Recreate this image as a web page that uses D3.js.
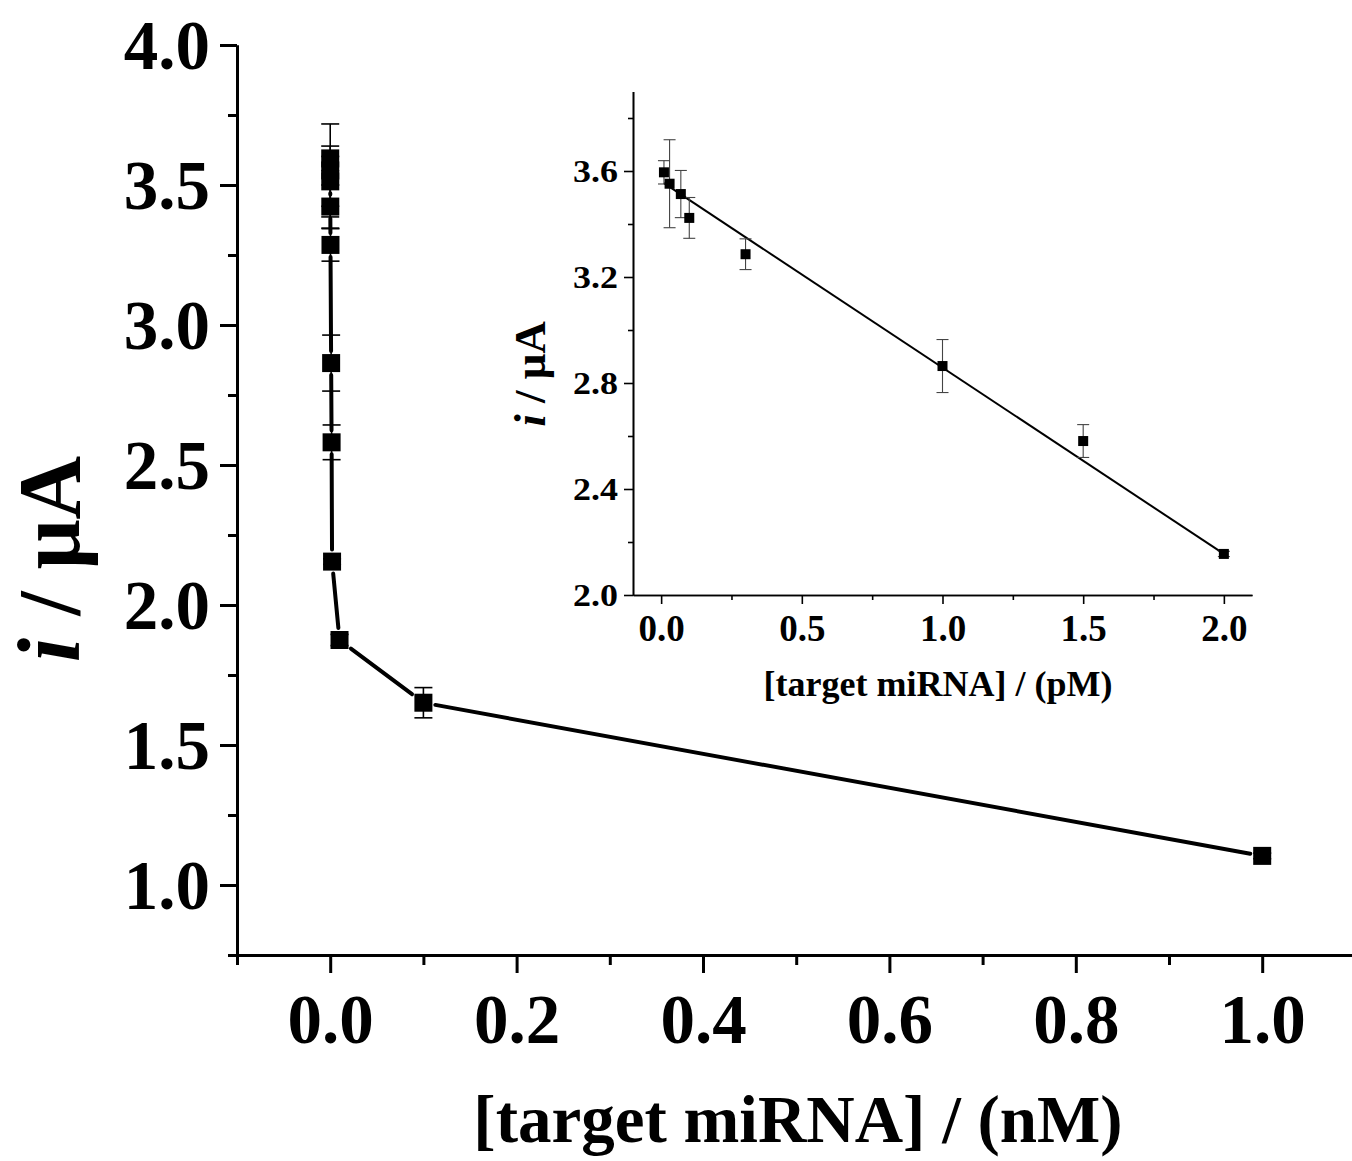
<!DOCTYPE html>
<html><head><meta charset="utf-8">
<script src="https://cdn.jsdelivr.net/npm/d3@7"></script>
<style>body{margin:0;background:#fff}svg{display:block}text{font-family:"Liberation Serif","Times New Roman",serif;font-weight:bold;fill:#000}</style>
</head><body><svg id="c" width="1352" height="1161"></svg>
<script>
// ---- data ----
const insetConcPM = [0.01, 0.03, 0.07, 0.1, 0.3, 1.0, 1.5, 2.0];
const insetCurrent = [3.595, 3.552, 3.513, 3.423, 3.286, 2.864, 2.581, 2.155];
const insetError = [0.044, 0.166, 0.089, 0.077, 0.058, 0.10, 0.062, 0.01];
const mainConcNM = [0.00001, 0.00003, 0.00007, 0.0001, 0.0003, 0.001, 0.0015, 0.002, 0.01, 0.1, 1.0];
const mainCurrent = [3.595, 3.552, 3.513, 3.423, 3.286, 2.864, 2.581, 2.155, 1.875, 1.651, 1.104];
const mainError = [0.044, 0.166, 0.089, 0.077, 0.058, 0.10, 0.062, 0.01, 0.02, 0.054, 0.01];
const fitRangePM = [0.01, 2.0];
const fitIntercept = 3.561, fitSlope = -0.703;
const mainXTicks = [0.0, 0.2, 0.4, 0.6, 0.8, 1.0];
const mainXMinor = [-0.1, 0.1, 0.3, 0.5, 0.7, 0.9];
const mainYTicks = [1.0, 1.5, 2.0, 2.5, 3.0, 3.5, 4.0];
const mainYMinor = [0.75, 1.25, 1.75, 2.25, 2.75, 3.25, 3.75];
const insetXTicks = [0.0, 0.5, 1.0, 1.5, 2.0];
const insetXMinor = [0.25, 0.75, 1.25, 1.75];
const insetYTicks = [2.0, 2.4, 2.8, 3.2, 3.6];
const insetYMinor = [2.2, 2.6, 3.0, 3.4, 3.8];

const svg = d3.select("#c");
svg.append("rect").attr("width",1352).attr("height",1161).attr("fill","#fff");

// ---- main chart ----
const x = d3.scaleLinear().domain([-0.1, 1.1]).range([237, 1355.4]);
const y = d3.scaleLinear().domain([0.75, 4.0]).range([955, 45]);

function styleAxis(g, w){
  g.select(".domain").attr("stroke","#000").attr("stroke-width",w);
  g.selectAll(".tick line").attr("stroke","#000").attr("stroke-width",w);
}
const gxm = svg.append("g").attr("transform","translate(0,955)")
  .call(d3.axisBottom(x).tickValues(mainXMinor).tickSize(10).tickFormat("").tickSizeOuter(0));
styleAxis(gxm,3);
const gx = svg.append("g").attr("transform","translate(0,955)")
  .call(d3.axisBottom(x).tickValues(mainXTicks).tickSize(18).tickPadding(10).tickFormat(d3.format(".1f")).tickSizeOuter(0));
styleAxis(gx,3);
gx.selectAll("text").attr("font-size",69).attr("dy",null).attr("y",null)
  .attr("transform","translate(0,88)");
const gym = svg.append("g").attr("transform","translate(237,0)")
  .call(d3.axisLeft(y).tickValues(mainYMinor).tickSize(9).tickFormat("").tickSizeOuter(0));
styleAxis(gym,3);
const gy = svg.append("g").attr("transform","translate(237,0)")
  .call(d3.axisLeft(y).tickValues(mainYTicks).tickSize(17).tickPadding(10).tickFormat(d3.format(".1f")).tickSizeOuter(0));
styleAxis(gy,3);
gy.selectAll("text").attr("font-size",69).attr("dy","0.338em");

// connecting line with gaps at markers
const mainPts = mainConcNM.map((c,i)=>[x(c), y(mainCurrent[i])]);
function gappedSegments(pts, half, gap){
  const segs=[];
  for(let i=0;i<pts.length-1;i++){
    const [x0,y0]=pts[i],[x1,y1]=pts[i+1];
    const dx=x1-x0, dy=y1-y0, d=Math.hypot(dx,dy);
    if(d===0) continue;
    const ux=dx/d, uy=dy/d;
    const t=half/Math.max(Math.abs(ux),Math.abs(uy))+gap;
    if(d<=2*t) continue;
    segs.push([[x0+ux*t,y0+uy*t],[x1-ux*t,y1-uy*t]]);
  }
  return segs;
}
const line = d3.line();
svg.append("g").selectAll("path").data(gappedSegments(mainPts,9,3)).join("path")
  .attr("d",d=>line(d)).attr("stroke","#000").attr("stroke-width",4).attr("fill","none").attr("stroke-linecap","round");

// main error bars
const eb = svg.append("g").attr("stroke","#000").attr("stroke-width",1.6);
mainConcNM.forEach((c,i)=>{
  const cx=x(c), yt=y(mainCurrent[i]+mainError[i]), yb=y(mainCurrent[i]-mainError[i]);
  eb.append("line").attr("x1",cx).attr("x2",cx).attr("y1",yt).attr("y2",yb);
  eb.append("line").attr("x1",cx-9).attr("x2",cx+9).attr("y1",yt).attr("y2",yt);
  eb.append("line").attr("x1",cx-9).attr("x2",cx+9).attr("y1",yb).attr("y2",yb);
});
svg.append("g").selectAll("rect").data(mainConcNM).join("rect")
  .attr("x",(d)=>x(d)-9).attr("y",(d,i)=>y(mainCurrent[i])-9).attr("width",18).attr("height",18).attr("fill","#000");

// main titles
svg.append("text").attr("x",798).attr("y",1142).attr("text-anchor","middle").attr("font-size",67)
  .text("[target miRNA] / (nM)");
const yt = svg.append("text").attr("text-anchor","middle").attr("font-size",88)
  .attr("transform","translate(79,559) rotate(-90)");
yt.append("tspan").attr("font-style","italic").text("i");
yt.append("tspan").text(" / μA");

// ---- inset ----
const xi = d3.scaleLinear().domain([-0.1, 2.1]).range([633, 1252]);
const yi = d3.scaleLinear().domain([2.0, 3.9]).range([595, 91.5]);
const gixm = svg.append("g").attr("transform","translate(0,595)")
  .call(d3.axisBottom(xi).tickValues(insetXMinor).tickSize(5).tickFormat("").tickSizeOuter(0));
styleAxis(gixm,1.6);
const gix = svg.append("g").attr("transform","translate(0,595)")
  .call(d3.axisBottom(xi).tickValues(insetXTicks).tickSize(9).tickFormat(d3.format(".1f")).tickSizeOuter(0));
styleAxis(gix,1.6);
gix.selectAll("text").attr("font-size",37).attr("dy",null).attr("y",46);
const giym = svg.append("g").attr("transform","translate(633,0)")
  .call(d3.axisLeft(yi).tickValues(insetYMinor).tickSize(5).tickFormat("").tickSizeOuter(0));
styleAxis(giym,1.6);
const giy = svg.append("g").attr("transform","translate(633,0)")
  .call(d3.axisLeft(yi).tickValues(insetYTicks).tickSize(9).tickPadding(6).tickFormat(d3.format(".1f")).tickSizeOuter(0));
styleAxis(giy,1.6);
giy.selectAll("text").attr("font-size",36).attr("dy","0.338em").attr("transform","scale(1,0.85)");

// fit line
svg.append("path").datum(fitRangePM.map(c=>[xi(c), yi(fitIntercept+fitSlope*c)]))
  .attr("d",line).attr("stroke","#000").attr("stroke-width",2).attr("fill","none");
// inset error bars
const ebi = svg.append("g").attr("stroke","#444").attr("stroke-width",1.1);
insetConcPM.forEach((c,i)=>{
  const cx=xi(c), yt=yi(insetCurrent[i]+insetError[i]), yb=yi(insetCurrent[i]-insetError[i]);
  ebi.append("line").attr("x1",cx).attr("x2",cx).attr("y1",yt).attr("y2",yb);
  ebi.append("line").attr("x1",cx-6).attr("x2",cx+6).attr("y1",yt).attr("y2",yt);
  ebi.append("line").attr("x1",cx-6).attr("x2",cx+6).attr("y1",yb).attr("y2",yb);
});
svg.append("g").selectAll("rect").data(insetConcPM).join("rect")
  .attr("x",d=>xi(d)-5).attr("y",(d,i)=>yi(insetCurrent[i])-5).attr("width",10).attr("height",10).attr("fill","#000");

svg.append("text").attr("x",938).attr("y",696).attr("text-anchor","middle").attr("font-size",36)
  .text("[target miRNA] / (pM)");
const yti = svg.append("text").attr("text-anchor","middle").attr("font-size",45)
  .attr("transform","translate(545,374) rotate(-90)");
yti.append("tspan").attr("font-style","italic").text("i");
yti.append("tspan").text(" / μA");
</script></body></html>
